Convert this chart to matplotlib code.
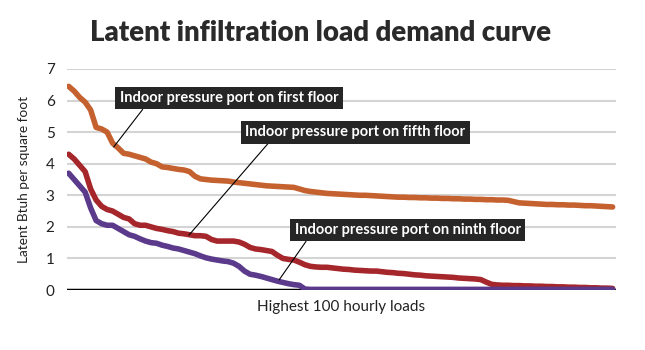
import matplotlib.pyplot as plt
import numpy as np

# hourly load values (Btuh per sq ft), highest 100 hours
first_floor = [6.45, 6.3, 6.1, 5.95, 5.7, 5.15, 5.1, 5.0, 4.65, 4.5,
               4.33, 4.3, 4.25, 4.2, 4.15, 4.05, 4.0, 3.9, 3.88, 3.85,
               3.82, 3.8, 3.75, 3.6, 3.52, 3.5, 3.48, 3.47, 3.46, 3.45,
               3.42, 3.4, 3.38, 3.36, 3.34, 3.32, 3.3, 3.29, 3.28, 3.27,
               3.26, 3.25, 3.2, 3.15, 3.12, 3.1, 3.08, 3.06, 3.05, 3.04,
               3.03, 3.02, 3.01, 3.0, 3.0, 2.99, 2.98, 2.97, 2.96, 2.95,
               2.94, 2.94, 2.93, 2.93, 2.92, 2.92, 2.91, 2.91, 2.9, 2.9,
               2.89, 2.89, 2.88, 2.88, 2.87, 2.87, 2.86, 2.86, 2.85, 2.85,
               2.84, 2.8, 2.76, 2.75, 2.74, 2.73, 2.72, 2.71, 2.71, 2.7,
               2.7, 2.69, 2.69, 2.68, 2.67, 2.67, 2.66, 2.65, 2.64, 2.63]
fifth_floor = [4.3, 4.15, 3.95, 3.75, 3.2, 2.85, 2.65, 2.55, 2.5, 2.4,
               2.3, 2.25, 2.1, 2.05, 2.05, 2.0, 1.95, 1.92, 1.88, 1.85,
               1.8, 1.78, 1.75, 1.72, 1.72, 1.7, 1.6, 1.55, 1.55, 1.55,
               1.55, 1.52, 1.45, 1.35, 1.3, 1.28, 1.25, 1.22, 1.1, 1.0,
               0.97, 0.95, 0.88, 0.8, 0.75, 0.73, 0.72, 0.72, 0.7, 0.68,
               0.66, 0.65, 0.63, 0.62, 0.61, 0.6, 0.6, 0.58, 0.56, 0.55,
               0.53, 0.52, 0.5, 0.48, 0.47, 0.45, 0.44, 0.43, 0.42, 0.41,
               0.4, 0.38, 0.37, 0.36, 0.35, 0.33, 0.25, 0.18, 0.16, 0.15,
               0.15, 0.14, 0.14, 0.13, 0.13, 0.12, 0.12, 0.11, 0.11, 0.1,
               0.1, 0.09, 0.09, 0.08, 0.08, 0.07, 0.07, 0.06, 0.06, 0.05]
ninth_floor = [3.7, 3.5, 3.3, 3.1, 2.6, 2.2, 2.1, 2.05, 2.05, 1.95,
               1.85, 1.75, 1.7, 1.62, 1.55, 1.5, 1.48, 1.42, 1.38, 1.33,
               1.3, 1.25, 1.2, 1.15, 1.08, 1.02, 0.98, 0.95, 0.92, 0.9,
               0.85, 0.75, 0.6, 0.5, 0.47, 0.43, 0.38, 0.33, 0.28, 0.24,
               0.2, 0.17, 0.15, 0.03] + [0.02] * 56

hours = np.arange(len(first_floor))

series = [
    (first_floor, '#c5612e', "Indoor pressure port on first floor", (29.2, 6.08), (8.2, 4.53), 0.12),
    (fifth_floor, '#a5262b', "Indoor pressure port on fifth floor", (52.2, 5.0), (21.9, 1.74), 0.12),
    (ninth_floor, '#5b3a8c', "Indoor pressure port on ninth floor", (61.7, 1.9), (38.3, 0.32), 0.064),
]

fig = plt.figure(figsize=(6.45, 3.5), dpi=100)
ax = fig.add_axes([0.1039, 0.1714, 0.851, 0.6315])

ax.axhline(0, color='black', lw=2.5, zorder=2)
for vals, col, label, txt, pt, rx in series:
    ax.plot(hours, vals, color=col, lw=4, solid_capstyle='round', solid_joinstyle='round', zorder=3)
    ax.annotate(label, xy=pt, xytext=txt, ha='center', va='center',
                color='white', fontsize=10.5, family='Lato', weight='bold',
                bbox=dict(boxstyle='square,pad=0.3', fc='#262626', ec='none'),
                arrowprops=dict(arrowstyle='-', color='black', lw=0.8, relpos=(rx, 0), shrinkA=0, shrinkB=0),
                zorder=5)

ax.set_xlim(-0.3, 99.6)
ax.set_ylim(0, 7)
ax.set_yticks(range(8))
ax.set_xticks([])
ax.grid(axis='y', color='#d4d4d4', lw=1.5)
ax.set_axisbelow(True)
for s in ['top', 'right', 'left', 'bottom']:
    ax.spines[s].set_visible(False)
ax.tick_params(axis='y', length=0, pad=9, labelsize=11, labelcolor='#222222')
for t in ax.get_yticklabels():
    t.set_family('Lato')

ax.set_ylabel("Latent Btuh per square foot", family='Lato', fontsize=9.8, color='#222222', labelpad=11)
ax.set_xlabel("Highest 100 hourly loads", family='Lato', fontsize=11, color='#222222', labelpad=7)
fig.text(0.497, 0.905, "Latent infiltration load demand curve", ha='center', va='center',
         family='Lato', weight='heavy', fontsize=19.8, color='#2a2a2a')

fig.savefig('out.png', dpi=100, facecolor='white')
